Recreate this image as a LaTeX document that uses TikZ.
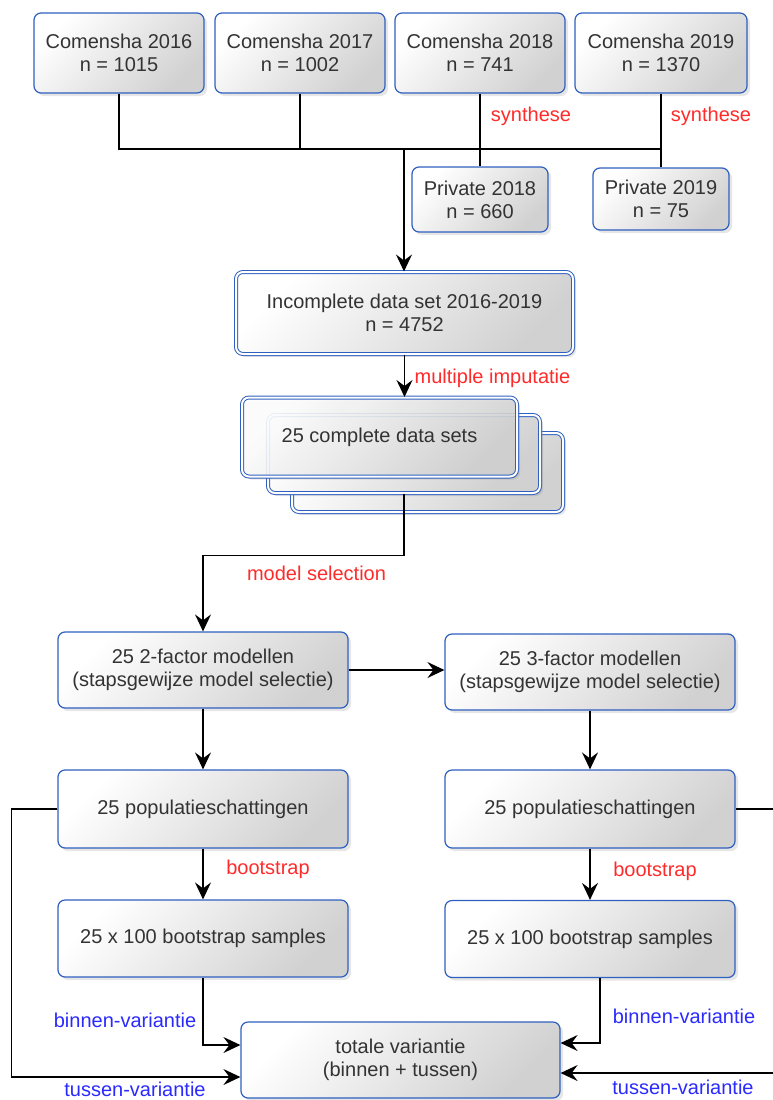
\documentclass[tikz,border=0pt]{standalone}
\usepackage{fontspec}
\setmainfont{Liberation Sans}
\usepackage{tikz}
\usetikzlibrary{arrows.meta}
\usetikzlibrary{shadows}
\usetikzlibrary{calc}

\definecolor{boxblue}{HTML}{2F5FBF}
\definecolor{labred}{HTML}{FF2A2A}
\definecolor{labblue}{HTML}{2A2AFF}
\definecolor{txtgray}{HTML}{333333}

\tikzset{
  box/.style={draw=boxblue, line width=1.2pt, rounded corners=7pt, top color=white, bottom color=black!18, shading angle=45,
    drop shadow={opacity=0.2, shadow xshift=3pt, shadow yshift=-3pt}, text=txtgray, align=center,
    font=\fontsize{20}{23}\selectfont, inner sep=0pt},
  dbox/.style={box, line width=1pt, double=white, double distance=2pt},
  conn/.style={line width=1.3pt},
  arr/.style={conn, -{Stealth[length=17pt, width=16pt, inset=6pt]}},
  redlab/.style={text=labred, font=\fontsize{20}{23}\selectfont},
  bluelab/.style={text=labblue, font=\fontsize{20}{23}\selectfont}
}

\begin{document}
\begin{tikzpicture}[x=1pt, y=-1pt]
\useasboundingbox (0,0) rectangle (773,1100);

\node[box, minimum width=170pt, minimum height=80pt] (c16) at (119,53) {Comensha 2016\\n = 1015};
\node[box, minimum width=170pt, minimum height=80pt] (c17) at (300,53) {Comensha 2017\\n = 1002};
\node[box, minimum width=170pt, minimum height=80pt] (c18) at (480,53) {Comensha 2018\\n = 741};
\node[box, minimum width=172pt, minimum height=80pt] (c19) at (661,53) {Comensha 2019\\n = 1370};
\node[box, minimum width=136pt, minimum height=65pt] (p18) at (480,199.5) {Private 2018\\n = 660};
\node[box, minimum width=136pt, minimum height=62pt] (p19) at (661,199) {Private 2019\\n = 75};
\coordinate (merge) at (404,149);

\draw[conn] (c16.south) |- (c19.south |- merge);
\draw[conn] (c17.south) -- (c17.south |- merge);
\draw[conn] (c18.south) -- (p18.north);
\draw[conn] (c19.south) -- (p19.north);
\node[redlab] (syn18) at (531,116) {synthese};
\node[redlab] (syn19) at (711,116) {synthese};

\node[dbox, minimum width=337pt, minimum height=82pt] (inc) at (404.5,313) {Incomplete data set 2016-2019\\n = 4752};
\draw[arr] (merge) -- (merge |- inc.north);

\node[dbox, minimum width=271pt, minimum height=79pt] (cds3) at (427.5,472.5) {};
\node[dbox, minimum width=272pt, minimum height=78pt] (cds2) at (404,454) {};
\node[dbox, minimum width=275pt, minimum height=79pt, fill opacity=0.88, text opacity=1] (cds) at (379.5,437) {25 complete data sets};
\draw[arr] (inc.south) -- (inc.south |- cds.north);
\node[redlab] (mi) at (492.5,378) {multiple imputatie};

\node[box, minimum width=290pt, minimum height=76pt] (f2) at (203,670) {25 2-factor modellen\\(stapsgewijze model selectie)};
\node[box, minimum width=290pt, minimum height=76pt] (f3) at (590,672) {25 3-factor modellen\\(stapsgewijze model selectie)};
\draw[arr] (cds2.south) |- ++(0,62) -| (f2.north);
\node[redlab] (ms) at (316.5,573) {model selection};
\draw[arr] (f2.east) -- (f2.east -| f3.west);

\node[box, minimum width=290pt, minimum height=78pt] (pop2) at (203,809) {25 populatieschattingen};
\node[box, minimum width=290pt, minimum height=78pt] (pop3) at (590,809) {25 populatieschattingen};
\draw[arr] (f2.south) -- (pop2.north);
\draw[arr] (f3.south) -- (pop3.north);

\node[box, minimum width=290pt, minimum height=77pt] (bs2) at (203,938.5) {25 x 100 bootstrap samples};
\node[box, minimum width=290pt, minimum height=77pt] (bs3) at (590,939) {25 x 100 bootstrap samples};
\draw[arr] (pop2.south) -- (bs2.north);
\draw[arr] (pop3.south) -- (bs3.north);
\node[redlab] (bt2) at (268,869) {bootstrap};
\node[redlab] (bt3) at (655,871) {bootstrap};

\node[box, minimum width=319pt, minimum height=76pt] (tot) at (400.5,1060) {totale variantie\\(binnen + tussen)};
\coordinate (edgeA) at (773,809);
\coordinate (edgeB) at (773,1073);
\draw[arr] (bs2.south) |- ([yshift=15pt]tot.west);
\draw[arr] ([xshift=10pt]bs3.south) |- ([yshift=17pt]tot.east);
\draw[arr] (pop2.west) -- ++(-46,0) |- ([yshift=-17pt]tot.west);
\draw[conn] (pop3.east) -- (edgeA);
\draw[arr] (edgeB) -- (edgeB -| tot.east);
\node[bluelab] (bv2) at (125,1020) {binnen-variantie};
\node[bluelab] (bv3) at (684,1016) {binnen-variantie};
\node[bluelab] (tv2) at (135,1089) {tussen-variantie};
\node[bluelab] (tv3) at (683,1087) {tussen-variantie};
\end{tikzpicture}
\end{document}
